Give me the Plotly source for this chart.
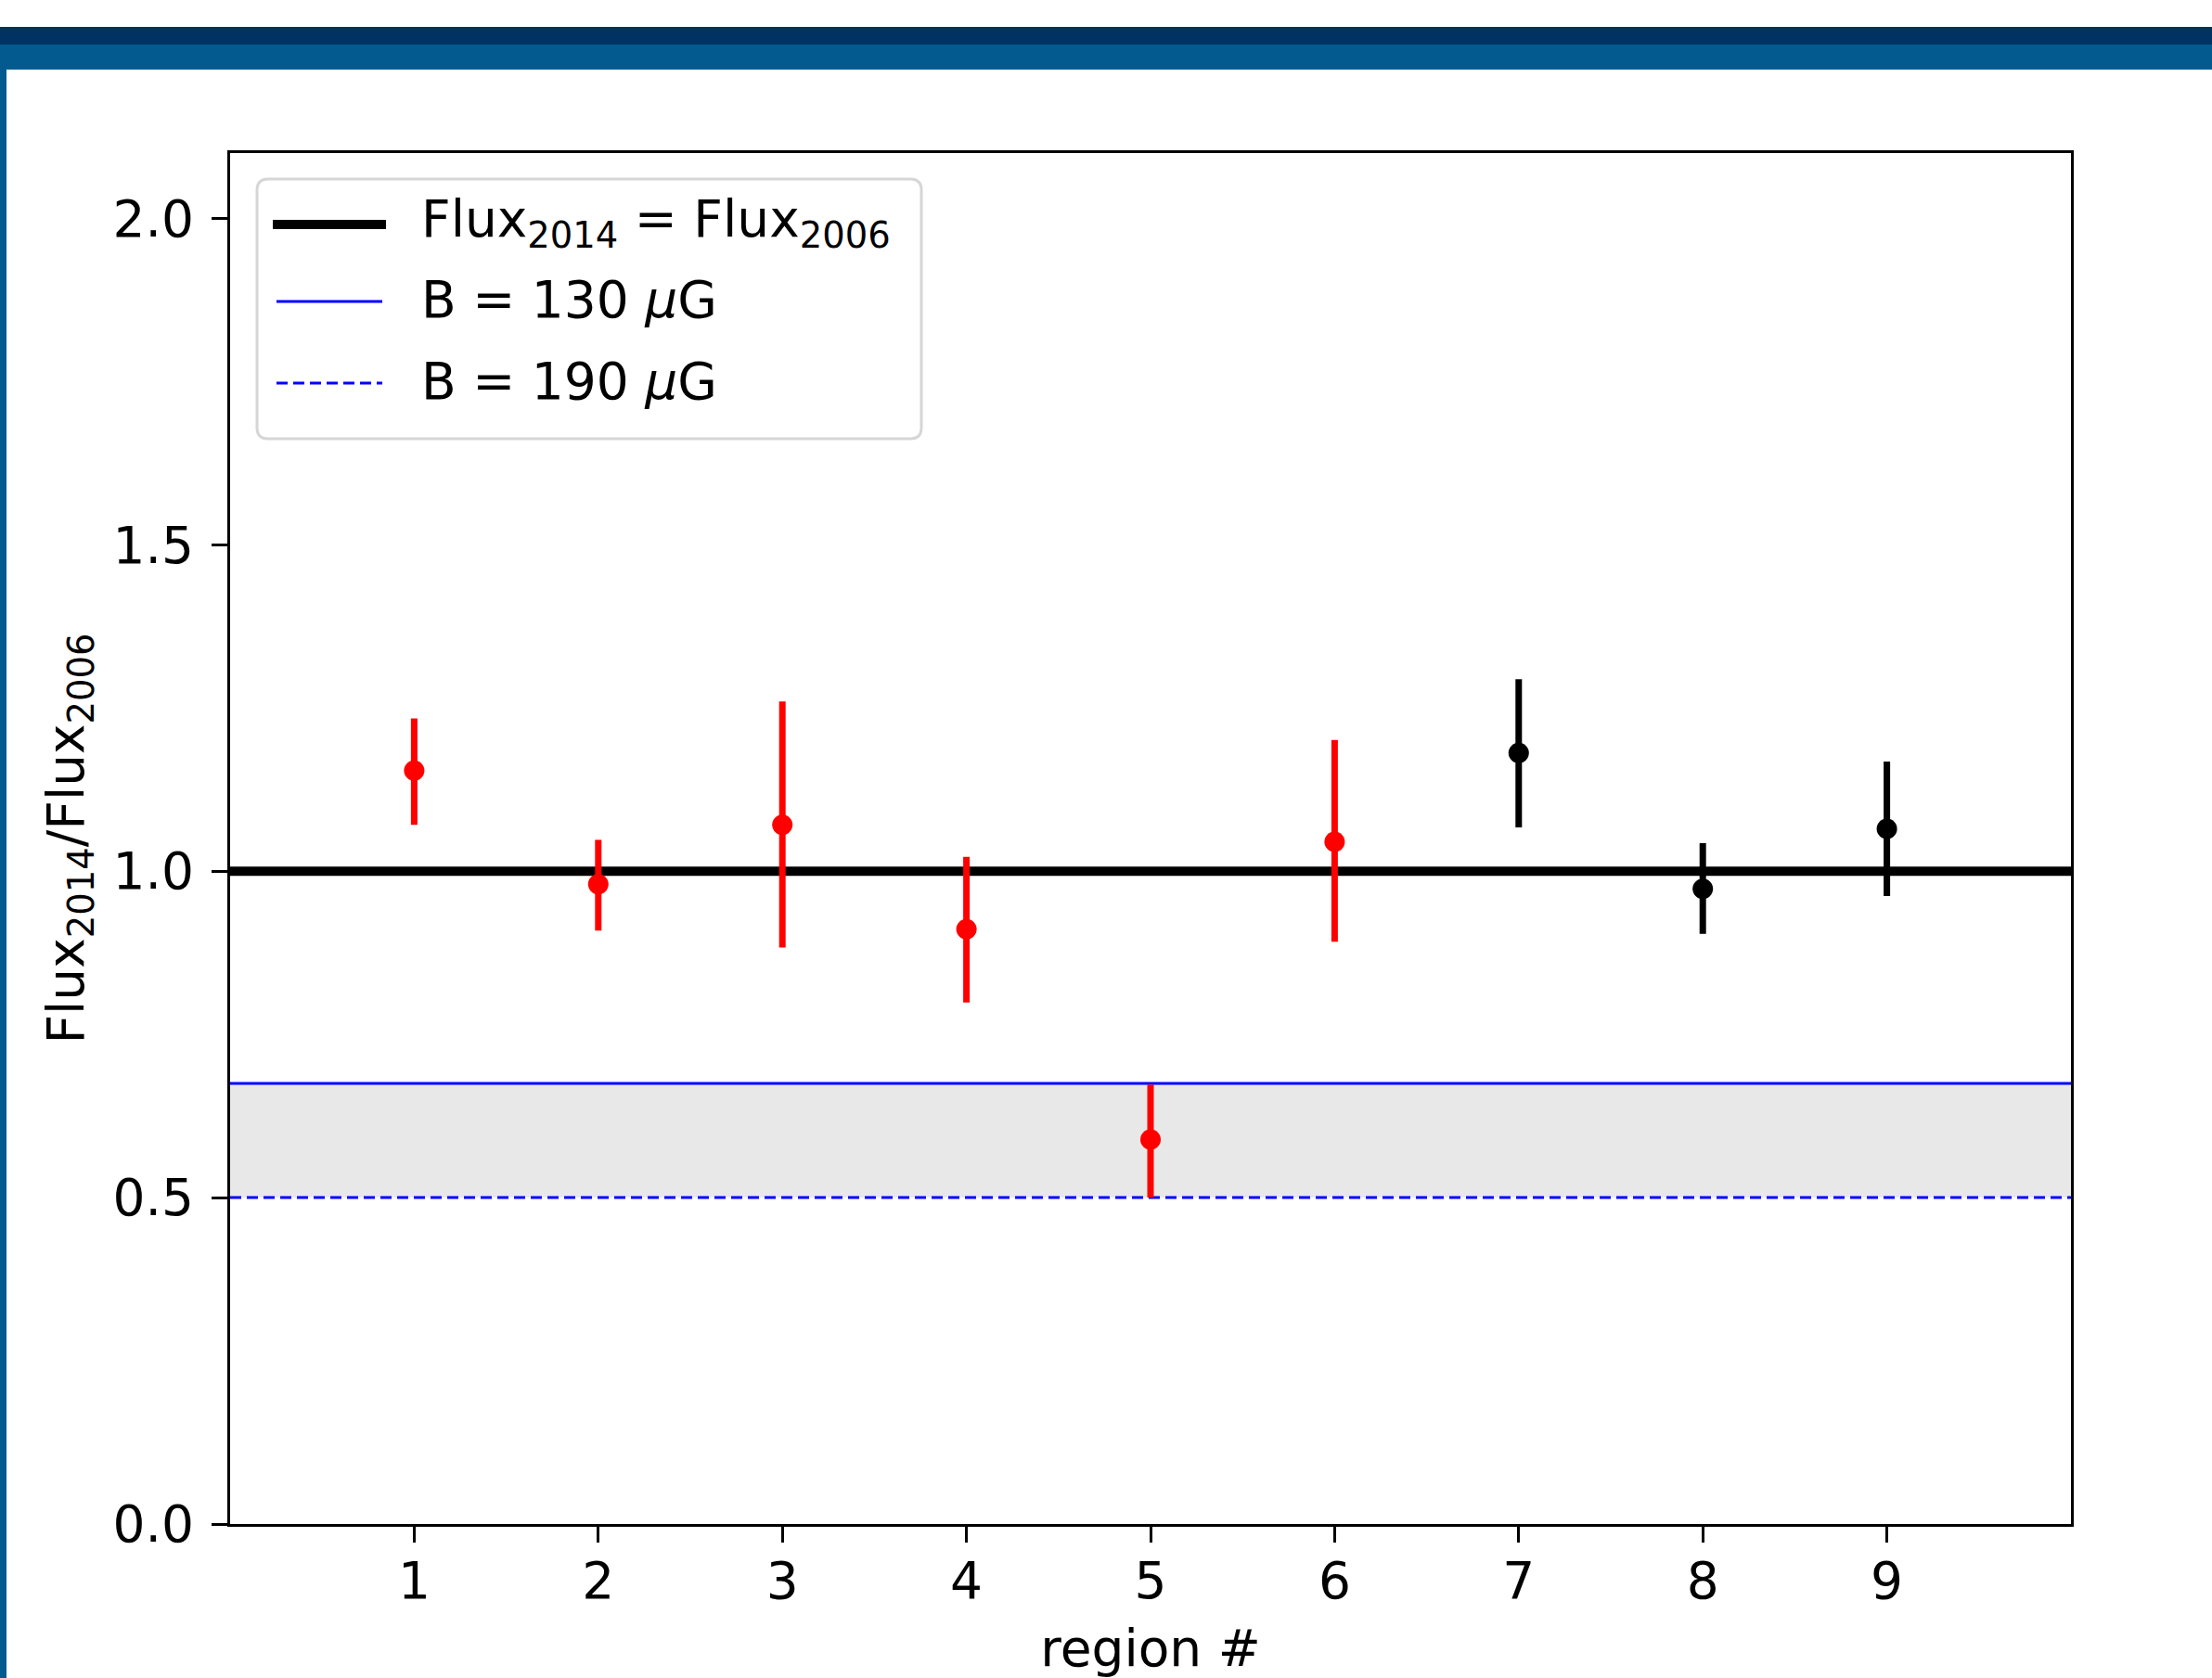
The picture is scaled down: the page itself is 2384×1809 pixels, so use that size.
import plotly.graph_objects as go

# ---- data ----
regions = [1, 2, 3, 4, 5, 6, 7, 8, 9]
ratio = [1.154, 0.980, 1.071, 0.911, 0.589, 1.045, 1.181, 0.973, 1.065]
err_up = [0.080, 0.068, 0.189, 0.111, 0.084, 0.156, 0.113, 0.070, 0.103]
err_dn = [0.083, 0.071, 0.188, 0.112, 0.089, 0.153, 0.114, 0.069, 0.103]
point_colors = ["red", "red", "red", "red", "red", "red", "black", "black", "black"]
equal_level = 1.0
b130_level = 0.675
b190_level = 0.5
x_span = [0, 10]
y_span = [0, 2.1]
x_ticks = [1, 2, 3, 4, 5, 6, 7, 8, 9]
y_ticks = [0.0, 0.5, 1.0, 1.5, 2.0]

W, H = 2384, 1809
L, R, T, B = 248, 2232, 165, 1643
FONT = "DejaVu Sans"
FS = 55


def px(x):
    return (x - L) / (R - L)


def py(y):
    return (B - y) / (B - T)


fig = go.Figure()

# shaded band between the two B-field levels
fig.add_shape(type="rect", xref="paper", yref="y", x0=0, x1=1,
              y0=b190_level, y1=b130_level, fillcolor="#e8e8e8",
              line=dict(width=0), layer="below")

fig.add_trace(go.Scatter(x=x_span, y=[b130_level] * 2, mode="lines",
                         line=dict(color="blue", width=3), showlegend=False,
                         hoverinfo="skip"))
fig.add_trace(go.Scatter(x=x_span, y=[b190_level] * 2, mode="lines",
                         line=dict(color="blue", width=3, dash="12px,6px"),
                         showlegend=False, hoverinfo="skip"))
fig.add_trace(go.Scatter(x=x_span, y=[equal_level] * 2, mode="lines",
                         line=dict(color="black", width=10), showlegend=False,
                         hoverinfo="skip"))

for c in ["red", "black"]:
    idx = [i for i, pc in enumerate(point_colors) if pc == c]
    fig.add_trace(go.Scatter(
        x=[regions[i] for i in idx], y=[ratio[i] for i in idx],
        mode="markers",
        marker=dict(color=c, size=22, line=dict(width=0)),
        error_y=dict(type="data", symmetric=False,
                     array=[err_up[i] for i in idx],
                     arrayminus=[err_dn[i] for i in idx],
                     color=c, thickness=7, width=0),
        showlegend=False, hoverinfo="skip"))

# ---- decorative page frame ----
fig.add_shape(type="rect", xref="paper", yref="paper",
              x0=px(0), x1=px(W), y0=py(48), y1=py(29),
              fillcolor="#003262", line=dict(width=0), layer="above")
fig.add_shape(type="rect", xref="paper", yref="paper",
              x0=px(0), x1=px(W), y0=py(75), y1=py(48),
              fillcolor="#025a8f", line=dict(width=0), layer="above")
fig.add_shape(type="rect", xref="paper", yref="paper",
              x0=px(0), x1=px(7), y0=py(H), y1=py(48),
              fillcolor="#025a8f", line=dict(width=0), layer="above")

# ---- manual legend ----
lx0, lx1, ly0, ly1, rr = 277, 993, 193, 473, 12
path = (f"M {px(lx0+rr)},{py(ly0)} L {px(lx1-rr)},{py(ly0)} "
        f"Q {px(lx1)},{py(ly0)} {px(lx1)},{py(ly0+rr)} "
        f"L {px(lx1)},{py(ly1-rr)} Q {px(lx1)},{py(ly1)} {px(lx1-rr)},{py(ly1)} "
        f"L {px(lx0+rr)},{py(ly1)} Q {px(lx0)},{py(ly1)} {px(lx0)},{py(ly1-rr)} "
        f"L {px(lx0)},{py(ly0+rr)} Q {px(lx0)},{py(ly0)} {px(lx0+rr)},{py(ly0)} Z")
fig.add_shape(type="path", xref="paper", yref="paper", path=path,
              fillcolor="rgba(255,255,255,0.85)",
              line=dict(color="#d6d6d6", width=3), layer="above")

legend_items = [
    ("Flux<sub>2014</sub> = Flux<sub>2006</sub>", 242, dict(color="black", width=10), 294, 416),
    ("B = 130 <i>μ</i>G", 325, dict(color="blue", width=3), 298, 412),
    ("B = 190 <i>μ</i>G", 413, dict(color="blue", width=3, dash="12px,6px"), 298, 412),
]
for text, yy, ln, xa, xb in legend_items:
    fig.add_shape(type="line", xref="paper", yref="paper",
                  x0=px(xa), x1=px(xb), y0=py(yy), y1=py(yy), line=ln,
                  layer="above")
    fig.add_annotation(xref="paper", yref="paper", x=px(452), y=py(yy - 2),
                       xanchor="left", yanchor="middle", text=text,
                       showarrow=False, font=dict(family=FONT, size=FS, color="black"))

fig.update_layout(
    width=W, height=H,
    margin=dict(l=L, r=W - R, t=T, b=H - B, autoexpand=False),
    paper_bgcolor="white", plot_bgcolor="white",
    font=dict(family=FONT, size=FS, color="black"),
    showlegend=False,
)
fig.update_xaxes(range=x_span, tickvals=x_ticks, ticks="outside", ticklen=17,
                 tickwidth=3, tickcolor="black", showline=True, linewidth=3,
                 linecolor="black", mirror=True, showgrid=False, zeroline=False,
                 tickfont=dict(family=FONT, size=FS), ticklabelstandoff=-6,
                 title=dict(text="region #", font=dict(family=FONT, size=FS), standoff=27))
fig.update_yaxes(range=y_span, tickvals=y_ticks, tickformat=".1f", ticks="outside",
                 ticklen=17, tickwidth=3, tickcolor="black", showline=True,
                 linewidth=3, linecolor="black", mirror=True, showgrid=False,
                 zeroline=False, tickfont=dict(family=FONT, size=FS),
                 ticklabelstandoff=8,
                 title=dict(text="Flux<sub>2014</sub>/Flux<sub>2006</sub>",
                            font=dict(family=FONT, size=FS), standoff=14))

fig.write_html("out.html")
